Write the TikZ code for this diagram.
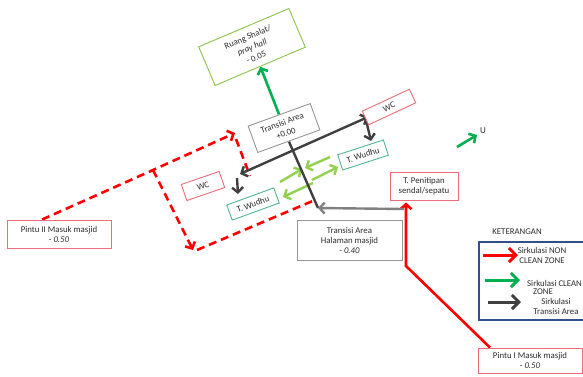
\documentclass[tikz,border=0pt]{standalone}
\usepackage{fontspec}
\setmainfont{Carlito}
\usetikzlibrary{arrows.meta,backgrounds}
\definecolor{redline}{RGB}{255,0,0}
\definecolor{pinkbox}{RGB}{232,110,122}
\definecolor{graybox}{RGB}{150,150,150}
\definecolor{limeline}{RGB}{146,208,80}
\definecolor{greenline}{RGB}{0,176,80}
\definecolor{shalatbox}{RGB}{140,195,75}
\definecolor{tealbox}{RGB}{80,185,140}
\definecolor{darkline}{RGB}{64,64,64}
\definecolor{midline}{RGB}{128,128,128}
\definecolor{legendblue}{RGB}{50,80,135}
\definecolor{txt}{RGB}{45,45,45}
\begin{document}
\begin{tikzpicture}[x=1pt,y=-1pt,
  lbl/.style={font=\fontsize{8.8}{10}\selectfont, text=txt, align=center, inner sep=0pt},
  box/.style={lbl, draw, line width=0.9pt, fill=white},
  rbox/.style={box, font=\fontsize{8.8}{11}\selectfont},
  head/.style={-{Straight Barb[length=5pt,width=11pt]}},
  heads/.style={{Straight Barb[length=5pt,width=11pt]}-{Straight Barb[length=5pt,width=11pt]}},
  bighead/.style={-{Straight Barb[length=7pt,width=14pt]}},
  redsolid/.style={draw=redline, line width=2.6pt},
  reddash/.style={draw=redline, line width=2.6pt, dash pattern=on 8pt off 5pt},
  darkarr/.style={draw=darkline, line width=2.4pt},
  midarr/.style={draw=midline, line width=2.4pt},
  limearr/.style={draw=limeline, line width=2.4pt},
  greenarr/.style={draw=greenline, line width=2.6pt},
]
\useasboundingbox (0,0) rectangle (583,376);

% boxes
\node[rbox, draw=shalatbox, rotate=23, minimum width=98pt, minimum height=42pt] (shalat) at (252,47) {Ruang Shalat/\\\textit{pray hall}\\- 0.05};
\node[rbox, draw=graybox, rotate=20, minimum width=66pt, minimum height=28pt] (trans) at (284,128) {Transisi Area\\+0.00};
\node[rbox, draw=pinkbox, rotate=25, minimum width=52pt, minimum height=15pt] (wcR) at (389,107) {WC};
\node[rbox, draw=tealbox, rotate=18, minimum width=48pt, minimum height=16pt] (wuR) at (363,155) {T. Wudhu};
\node[rbox, draw=tealbox, rotate=20, minimum width=50pt, minimum height=16pt] (wuL) at (253,204) {T. Wudhu};
\node[rbox, draw=pinkbox, rotate=19, minimum width=40pt, minimum height=17pt] (wcL) at (203,186) {WC};
\node[box, draw=pinkbox, minimum width=104pt, minimum height=28pt] (p2) at (59,234) {Pintu II Masuk masjid\\- \textit{0.50}};
\node[box, draw=pinkbox, minimum width=68pt, minimum height=28pt] (tpen) at (424,186) {T. Penitipan\\sendal/sepatu};
\node[box, draw=graybox, minimum width=105pt, minimum height=40pt] (thal) at (349.5,240) {Transisi Area\\Halaman masjid\\- \textit{0.40}};
\node[box, draw=pinkbox, minimum width=104pt, minimum height=25pt] (p1) at (530,360.5) {Pintu I Masuk masjid\\- \textit{0.50}};

% legend
\node[lbl] (ket) at (517,232) {KETERANGAN};
\node[draw=legendblue, line width=1.2pt, minimum width=115pt, minimum height=78pt, inner sep=0pt] (leg) at (536.5,281) {};
\node[lbl] (t1) at (542,255.5) {Sirkulasi NON\\CLEAN ZONE};
\node[lbl, anchor=west] (t2a) at (527,283) {Sirkulasi CLEAN};
\node[lbl] (t2b) at (543,292) {ZONE};
\node[lbl] (t3) at (556,306) {Sirkulasi\\Transisi Area};
\coordinate (l1a) at (483,255); \coordinate (l1b) at (518,255);
\coordinate (l2a) at (485,280); \coordinate (l2b) at (520,280);
\coordinate (l3a) at (488,302); \coordinate (l3b) at (521,302);

% north
\node[lbl, font=\fontsize{9}{10}\selectfont] (u) at (483,131) {U};
\coordinate (ga) at (457,147); \coordinate (gb) at (477,135);

% junction points
\coordinate (corner) at (318,208);
\coordinate (rj) at (404,209);
\coordinate (dl) at (240,174); \coordinate (dr) at (368,117);
\coordinate (drs) at (366,120); \coordinate (drt) at (371,141);
\coordinate (dls) at (237,178); \coordinate (dlt) at (238,194);
\coordinate (rA) at (153,170); \coordinate (rB) at (235,133);
\coordinate (rC) at (193,250); \coordinate (rC2) at (197,250);
\coordinate (rD) at (315,200);
\coordinate (rB2) at (236,139); \coordinate (rE) at (250,176);
\coordinate (rM) at (406,266);
\coordinate (la1) at (280,182); \coordinate (lb1) at (302,169);
\coordinate (la2) at (330,157); \coordinate (lb2) at (305,168);
\coordinate (la3) at (312,180); \coordinate (lb3) at (338,167);
\coordinate (la4) at (313,183); \coordinate (lb4) at (283,197);

\begin{scope}[on background layer]
  \fill[white] (0,0) rectangle (583,376);
  % red non clean
  \draw[reddash, head] ([xshift=-17pt]p2.north) -- (rA) -- (rB);
  \draw[reddash, head] (rA) -- (rC);
  \draw[reddash] (rC2) -- (rD);
  \draw[reddash] (rB2) -- (rE);
  \draw[redsolid, head] ([xshift=-40pt]p1.north) -- (rM) -- ([xshift=-18pt,yshift=-2pt]tpen.south);
  % clean
  \draw[greenarr, head] (trans.north) -- (shalat.south);
  \draw[limearr, head] (la1) -- (lb1);
  \draw[limearr, head] (la2) -- (lb2);
  \draw[limearr, head] (la3) -- (lb3);
  \draw[limearr, head] (la4) -- (lb4);
  % transition
  \draw[darkarr] (trans.south) -- (corner);
  \draw[midarr, head] (rj) -- (corner);
  \draw[darkarr, heads] (dl) -- (dr);
  \draw[darkarr, head] (drs) -- (drt);
  \draw[darkarr, head] (dls) -- (dlt);
  % north arrow
  \draw[greenarr, head] (ga) -- (gb);
  % legend arrows
  \draw[redsolid, line width=3pt, bighead] (l1a) -- (l1b);
  \draw[greenarr, line width=3pt, bighead] (l2a) -- (l2b);
  \draw[darkarr, line width=3pt, bighead] (l3a) -- (l3b);
\end{scope}
\end{tikzpicture}
\end{document}
